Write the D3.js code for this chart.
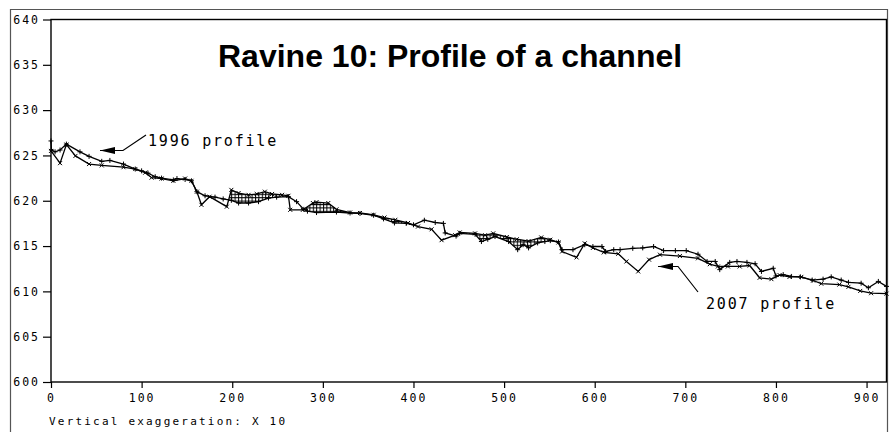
<!DOCTYPE html>
<html><head><meta charset="utf-8">
<script src="https://cdn.jsdelivr.net/npm/d3@7"></script>
<style>
html,body{margin:0;padding:0;background:#fff;}
svg{display:block;}
</style></head>
<body>
<svg id="chart" width="892" height="432"></svg>
<script>
// ---- data ----
const dist1996 = [0,0.5,4.5,10,17,32,42,56,65,80,93,100,107,115,122,135,139,148,155,161,170,181,190,199,207,218,229,240,249,262,271,279,283,293,315,330,341,356,367,379,392,400,412,424,433,435,447,451,468,475,482,490,505,515,521,527,537,545,551,560,564,576,589,598,608,612,621,628,642,653,665,676,689,701,714,724,733,738,749,757,768,777,784,797,800,808,817,827,840,852,861,872,880,894,902,913,922];
const elev1996 = [626.6,625.6,625.4,625.6,626.25,625.4,624.9,624.35,624.45,624.05,623.5,623.3,623.05,622.65,622.5,622.3,622.45,622.35,622.2,621.0,620.55,620.4,620.2,620.05,619.75,619.75,619.9,620.3,620.4,620.45,619.9,619.05,618.85,618.7,618.75,618.65,618.6,618.4,618.0,617.55,617.5,617.35,617.85,617.6,617.5,616.45,616.1,616.4,616.3,615.5,615.75,616.05,615.5,614.6,615.15,614.8,615.35,615.5,615.6,615.45,614.6,614.6,615.15,614.95,614.95,614.4,614.6,614.6,614.75,614.8,614.95,614.5,614.5,614.5,614.1,613.3,613.3,612.4,613.2,613.3,613.2,613.05,612.2,612.55,611.7,611.85,611.65,611.6,611.25,611.35,611.6,611.25,611.0,610.9,610.4,611.1,610.55];

const dist2007 = [0,10,17,27,42,56,80,93,104,111,122,135,148,155,161,166,175,194,199,207,218,227,236,244,255,262,264,278,289,293,306,315,330,341,356,368,380,394,405,420,431,446,451,468,479,488,503,514,527,541,551,560,564,580,589,598,610,626,635,648,660,672,694,714,727,736,747,760,771,782,795,804,815,828,841,850,870,880,893,905,922];
const elev2007 = [625.5,624.15,626.2,624.95,624.05,623.9,623.7,623.5,623.1,622.55,622.45,622.2,622.45,622.2,621.0,619.55,620.45,619.35,621.2,620.85,620.65,620.75,621.0,620.75,620.65,620.55,619.0,619.0,619.75,619.85,619.75,619.05,618.7,618.65,618.45,618.15,617.9,617.55,617.15,616.85,615.65,616.2,616.5,616.4,616.2,616.4,616.0,615.75,615.55,615.95,615.7,615.4,614.4,613.75,615.3,614.8,614.3,614.15,613.3,612.2,613.5,614.05,613.9,613.65,613.0,612.75,612.75,612.75,612.85,611.5,611.35,611.8,611.6,611.6,611.2,610.85,610.75,610.5,610.05,609.8,609.75];

const xTicks = [0,100,200,300,400,500,600,700,800,900];
const yTicks = [600,605,610,615,620,625,630,635,640];
const titleText = "Ravine 10: Profile of a channel";
const note = "Vertical exaggeration: X 10";
const label1996 = "1996 profile";
const label2007 = "2007 profile";

// ---- drawing ----
const svg = d3.select("#chart");
const x = d3.scaleLinear().domain([0, 922]).range([51, 886.5]);
const y = d3.scaleLinear().domain([600, 640]).range([382, 19.5]);

const s1996 = dist1996.map((d,i)=>({d, e: elev1996[i]}));
const s2007 = dist2007.map((d,i)=>({d, e: elev2007[i]}));

const defs = svg.append("defs");
const pat = defs.append("pattern").attr("id","hatch").attr("patternUnits","userSpaceOnUse")
  .attr("width",3.4).attr("height",3.4);
pat.append("rect").attr("width",3.4).attr("height",3.4).attr("fill","#fff");
pat.append("path").attr("d","M0,0.5H3.4M0.5,0V3.4").attr("stroke","#000").attr("stroke-width",1);

defs.append("clipPath").attr("id","above1996").append("path")
  .attr("d", d3.area().x(p=>x(p.d)).y0(y(640)).y1(p=>y(p.e))(s1996));

// outer frame
svg.append("path").attr("d","M10.5,432V9.5H887.5V432").attr("fill","none").attr("stroke","#555").attr("stroke-width",1.2);

// hatched areas (2007 above 1996)
svg.append("path").attr("d", d3.area().x(p=>x(p.d)).y0(y(600)).y1(p=>y(p.e))(s2007))
  .attr("fill","url(#hatch)").attr("clip-path","url(#above1996)");

// plot frame
svg.append("rect").attr("x",51).attr("y",19.5).attr("width",886.5-51).attr("height",382-19.5)
  .attr("fill","none").attr("stroke","#000").attr("stroke-width",1.4);

// axes
const gx = svg.append("g").attr("transform","translate(0,382)")
  .call(d3.axisBottom(x).tickValues(xTicks).tickSize(6).tickPadding(6).tickFormat(d3.format("d")));
const gy = svg.append("g").attr("transform","translate(51,0)")
  .call(d3.axisLeft(y).tickValues(yTicks).tickSize(8).tickPadding(3).tickFormat(d3.format("d")));
[gx,gy].forEach(g=>{
  g.select(".domain").remove();
  g.selectAll(".tick line").attr("stroke","#000").attr("stroke-width",1.2);
  g.selectAll(".tick text").attr("font-size",11.5).attr("fill","#000")
    .style("letter-spacing","2px").attr("font-family","DejaVu Sans Mono");
});

// lines
const line = d3.line().x(p=>x(p.d)).y(p=>y(p.e));
svg.append("path").attr("d", line(s1996)).attr("fill","none").attr("stroke","#000").attr("stroke-width",1.3);
svg.append("path").attr("d", line(s2007)).attr("fill","none").attr("stroke","#000").attr("stroke-width",1.3);

// markers
svg.append("g").selectAll("path").data(s1996).join("path")
  .attr("transform",p=>`translate(${x(p.d)},${y(p.e)})`)
  .attr("d","M-2.5,0H2.5M0,-2.5V2.5").attr("stroke","#000").attr("stroke-width",1);
svg.append("g").selectAll("path").data(s2007).join("path")
  .attr("transform",p=>`translate(${x(p.d)},${y(p.e)})`)
  .attr("d","M-2,-2L2,2M-2,2L2,-2").attr("stroke","#000").attr("stroke-width",1);

// title
svg.append("text").attr("x",218).attr("y",67).text(titleText)
  .attr("font-family","Liberation Sans, Arial, sans-serif").attr("font-weight","bold")
  .attr("font-size",32).attr("fill","#000");

// note
svg.append("text").attr("x",49).attr("y",425).text(note)
  .attr("font-family","DejaVu Sans Mono").attr("font-size",11).style("letter-spacing","2.2px").attr("fill","#000");

// annotations
function annot(label, tx, ty, pts){
  svg.append("text").attr("x",tx).attr("y",ty).text(label)
    .attr("font-family","DejaVu Sans Mono").attr("font-size",15).style("letter-spacing","1.8px").attr("fill","#000");
  svg.append("path").attr("d", d3.line()(pts)).attr("fill","none").attr("stroke","#000").attr("stroke-width",1.2);
  const tip = pts[pts.length-1];
  const hx = tip[0] + 15;
  svg.append("path").attr("d",`M${tip[0]},${tip[1]}L${hx},${tip[1]-3.5}L${hx},${tip[1]+3.5}Z`).attr("fill","#000");
}
annot(label1996, 148, 146, [[146,135],[123,150.5],[100,150.5]]);
annot(label2007, 706, 309, [[698,292],[678,266.5],[658,266.5]]);
</script>
</body></html>
